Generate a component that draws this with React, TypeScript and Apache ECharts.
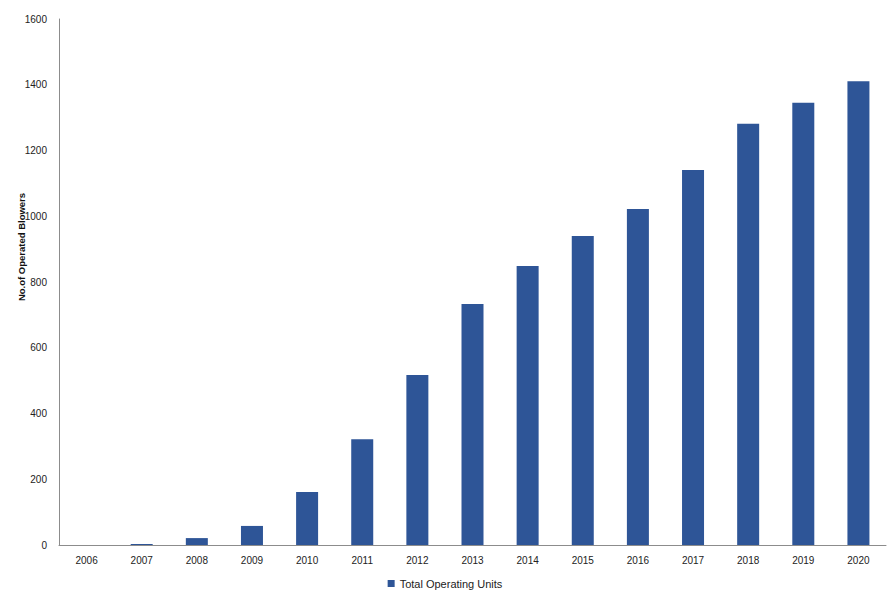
import React, { useEffect, useRef } from "react";
import * as echarts from "echarts";

const years = ["2006","2007","2008","2009","2010","2011","2012","2013","2014","2015","2016","2017","2018","2019","2020"];
const totalOperatingUnits = [0, 3, 21, 58, 161, 322, 517, 733, 849, 940, 1022, 1141, 1281, 1345, 1411];
const seriesName = "Total Operating Units";
const yAxisName = "No.of Operated Blowers";

export default function App() {
  const ref = useRef<HTMLDivElement>(null);
  useEffect(() => {
    const chart = echarts.init(ref.current!, null, { renderer: "svg" });
    const font = "'Liberation Sans', Arial, sans-serif";
    chart.setOption({
      animation: false,
      textStyle: { fontFamily: font },
      grid: { left: 59, right: 4, top: 19, bottom: 50, containLabel: false, outerBoundsMode: "none" },
      legend: {
        bottom: 1,
        left: "center",
        itemWidth: 7,
        itemHeight: 7,
        itemGap: 10,
        icon: "rect",
        textStyle: { fontSize: 11, color: "#222", fontFamily: font },
        data: [seriesName],
      },
      graphic: [
        {
          type: "text",
          x: 21,
          y: 247,
          rotation: Math.PI / 2,
          style: {
            text: yAxisName,
            fontSize: 9.5,
            fontWeight: "bold",
            fill: "#111",
            fontFamily: font,
            align: "center",
            verticalAlign: "middle",
          },
        },
      ],
      xAxis: {
        type: "category",
        data: years,
        axisLine: { lineStyle: { color: "#8c8c8c", width: 1 } },
        axisTick: { show: false },
        axisLabel: { fontSize: 10, color: "#222", margin: 10, fontFamily: font },
      },
      yAxis: {
        type: "value",
        min: 0,
        max: 1600,
        interval: 200,
        axisLine: { show: true, lineStyle: { color: "#8c8c8c", width: 1 } },
        axisTick: { show: false },
        splitLine: { show: false },
        axisLabel: { fontSize: 10, color: "#222", margin: 12, fontFamily: font, formatter: (v: number) => String(v) },
      },
      series: [
        {
          name: seriesName,
          type: "bar",
          data: totalOperatingUnits,
          barWidth: 22,
          itemStyle: { color: "#2E5597" },
        },
      ],
    });
    return () => chart.dispose();
  }, []);
  return <div ref={ref} style={{ width: 890, height: 595, position: "absolute", left: 0, top: 0, background: "#fff" }} />;
}
